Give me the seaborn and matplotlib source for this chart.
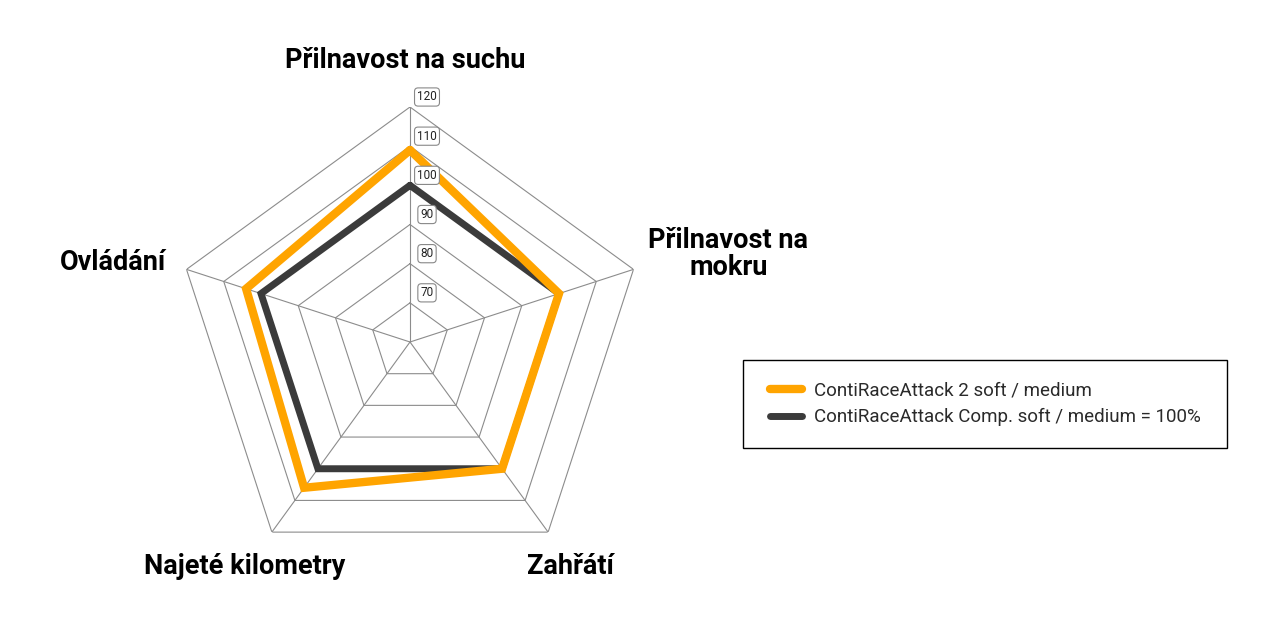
import numpy as np
import pandas as pd
import matplotlib
matplotlib.use("Agg")
import matplotlib.pyplot as plt
import seaborn as sns
from matplotlib.lines import Line2D
from matplotlib.patches import Rectangle

# Data
categories = ["Přilnavost na suchu", "Přilnavost na\nmokru", "Zahřátí", "Najeté kilometry", "Ovládání"]
race_attack_2 = [109, 100, 100, 106, 104]
race_attack_comp = [100, 100, 100, 100, 100]
series_names = ["ContiRaceAttack 2 soft / medium", "ContiRaceAttack Comp. soft / medium = 100%"]
ring_values = [70, 80, 90, 100, 110, 120]
r_min, r_max = 60, 120

ORANGE = "#FFA400"
DARK = "#3B3B3B"
GRID = "#8C8C8C"

sns.set_theme(style="white")
plt.rcParams["font.family"] = ["Roboto", "DejaVu Sans"]

n = len(categories)
theta = np.linspace(0, 2 * np.pi, n, endpoint=False)
theta_closed = np.append(theta, 2 * np.pi)

fig = plt.figure(figsize=(12.8, 6.4), dpi=100)
ax = fig.add_axes([175 / 1280, 63 / 640, 470 / 1280, 470 / 640], projection="polar")
ax.set_theta_offset(np.pi / 2)
ax.set_theta_direction(-1)
ax.set_ylim(r_min, r_max)
ax.grid(False)
ax.spines["polar"].set_visible(False)
ax.set_xticks([])
ax.set_yticks([])

# pentagon grid
for rv in ring_values:
    ax.plot(theta_closed, [rv] * (n + 1), color=GRID, lw=0.8, zorder=1)
for t in theta:
    ax.plot([t, t], [r_min, r_max], color=GRID, lw=0.8, zorder=1)

# radial value labels on the top axis
for rv in ring_values:
    ax.annotate(str(rv), xy=(0, rv), xytext=(17, 10), textcoords="offset pixels",
                ha="center", va="center", fontsize=8.5, color="#222222", zorder=5,
                bbox=dict(boxstyle="round,pad=0.22,rounding_size=0.3", fc="white", ec="#888888", lw=0.8))

# series
df = pd.DataFrame({
    "theta": np.concatenate([theta_closed, theta_closed]),
    "value": race_attack_comp + race_attack_comp[:1] + race_attack_2 + race_attack_2[:1],
    "series": [series_names[1]] * (n + 1) + [series_names[0]] * (n + 1),
})
sns.lineplot(data=df[df.series == series_names[1]], x="theta", y="value", ax=ax, sort=False,
             color=DARK, lw=5, zorder=3, legend=False)
sns.lineplot(data=df[df.series == series_names[0]], x="theta", y="value", ax=ax, sort=False,
             color=ORANGE, lw=6, zorder=4, legend=False)
for line in ax.lines[-2:]:
    line.set_solid_joinstyle("miter")
ax.set_xlabel("")
ax.set_ylabel("")
ax.set_ylim(r_min, r_max)

# category labels
label_offsets = [(-5, 47, "center"), (95, 15, "center"), (22, -34, "center"), (-27, -34, "center"), (-20, 7, "right")]
for t, lab, (dx, dy, ha) in zip(theta, categories, label_offsets):
    ax.annotate(lab, xy=(t, r_max), xytext=(dx, dy), textcoords="offset pixels",
                ha=ha, va="center", fontsize=19.5, fontweight="bold", color="black",
                multialignment="center", linespacing=1.0, annotation_clip=False)

handles = [Line2D([0], [0], color=ORANGE, lw=6, solid_capstyle="round"),
           Line2D([0], [0], color=DARK, lw=5, solid_capstyle="round")]
leg = fig.legend(handles, series_names, loc="center", bbox_to_anchor=(985 / 1280, 1 - 404 / 640),
                 frameon=False, prop=dict(family=["Roboto", "DejaVu Sans"], size=13.5),
                 handlelength=1.75, handletextpad=0.6, borderpad=0, labelspacing=0.45, borderaxespad=0)
for txt in leg.get_texts():
    txt.set_color("#2a2a2a")

# frame around the legend with wider side padding, as in the original
fig.canvas.draw()
bb = leg.get_window_extent()
pad_x, pad_y = 27, 22
fig.patches.append(Rectangle((bb.x0 - pad_x, bb.y0 - pad_y), bb.width + 2 * pad_x, bb.height + 2 * pad_y,
                             transform=None, fill=False, ec="black", lw=1.0, figure=fig))

fig.savefig("out.png", dpi=100)
